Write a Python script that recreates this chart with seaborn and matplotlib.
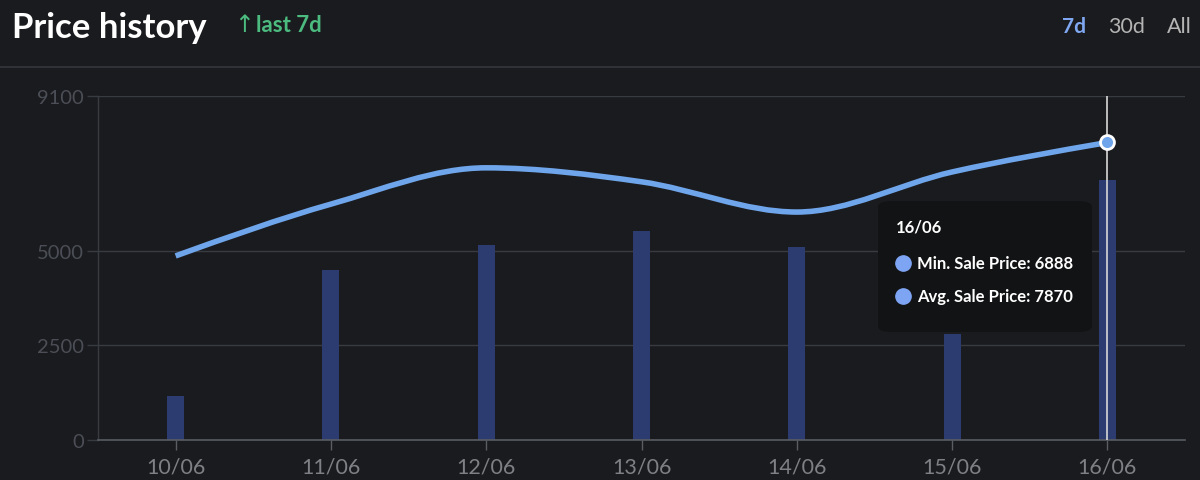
import numpy as np
import pandas as pd
import matplotlib
matplotlib.use("Agg")
import matplotlib.pyplot as plt
import seaborn as sns
from matplotlib.path import Path
from matplotlib.patches import PathPatch, FancyBboxPatch
from matplotlib.lines import Line2D

# data
days = ["10/06", "11/06", "12/06", "13/06", "14/06", "15/06", "16/06"]
min_price = [1160, 4500, 5150, 5530, 5100, 2800, 6888]
avg_price = [4870, 6240, 7200, 6830, 6030, 7090, 7870]
y_ticks = [0, 2500, 5000, 9100]

BG = "#1a1b1e"
GRID = "#383b42"
BAR = "#2c3c70"
LINE = "#6fa5ea"

sns.set_style("dark")
plt.rcParams["font.family"] = ["Lato", "DejaVu Sans"]

W, H = 1200, 481
fig = plt.figure(figsize=(12, 4.81), dpi=100, facecolor=BG)


def fx(px):
    return px / W


def fy(py):
    return 1 - py / H


ax = fig.add_axes([fx(98), fy(441), fx(1185) - fx(98), fy(97) - fy(441)])
ax.set_facecolor(BG)

df = pd.DataFrame({"day": days, "min": min_price, "avg": avg_price})
sns.barplot(data=df, x="day", y="min", color=BAR, saturation=1, width=0.11,
            edgecolor="none", linewidth=0, ax=ax)

# smooth line, monotone-x like the web chart
x = np.arange(len(days), dtype=float)
y = np.array(avg_price, dtype=float)
h = np.diff(x)
s = np.diff(y) / h
t = np.zeros(len(y))
for i in range(1, len(y) - 1):
    p = (s[i - 1] * h[i] + s[i] * h[i - 1]) / (h[i - 1] + h[i])
    t[i] = (np.sign(s[i - 1]) + np.sign(s[i])) * min(abs(s[i - 1]), abs(s[i]), 0.5 * abs(p))
t[0] = (3 * s[0] - t[1]) / 2
t[-1] = (3 * s[-1] - t[-2]) / 2
verts = [(x[0], y[0])]
codes = [Path.MOVETO]
for i in range(len(x) - 1):
    dx = (x[i + 1] - x[i]) / 3
    verts += [(x[i] + dx, y[i] + dx * t[i]), (x[i + 1] - dx, y[i + 1] - dx * t[i + 1]), (x[i + 1], y[i + 1])]
    codes += [Path.CURVE4] * 3
ax.add_patch(PathPatch(Path(verts, codes), fill=False, edgecolor=LINE, lw=4, capstyle="butt", zorder=4))

# hover cursor on last day
ax.axvline(len(days) - 1, color="#d8d8d8", lw=1.2, zorder=5)
sns.scatterplot(x=[len(days) - 1], y=[avg_price[-1]], s=100, color=LINE, edgecolor="white",
                linewidth=2, ax=ax, zorder=6)

ax.set_xlim(-0.5, len(days) - 0.5)
ax.set_ylim(0, 9100)
ax.set_yticks(y_ticks)
ax.set_yticklabels([str(v) for v in y_ticks])
ax.set_xlabel("")
ax.set_ylabel("")
ax.grid(False)
for v in y_ticks[1:]:
    ax.axhline(v, color=GRID, lw=1, zorder=0)

for side in ["top", "right"]:
    ax.spines[side].set_visible(False)
ax.spines["left"].set_color(GRID)
ax.spines["left"].set_linewidth(1)
ax.spines["bottom"].set_color("#5a5d64")
ax.spines["bottom"].set_linewidth(1.2)
ax.tick_params(axis="y", colors=GRID, labelcolor="#4b4e56", labelsize=14.5, length=8, width=1, pad=2, left=True)
ax.tick_params(axis="x", colors="#5a5d64", labelcolor="#7e8085", labelsize=15.5, length=7, width=1, pad=5, bottom=True)

# tooltip
tip = FancyBboxPatch((fx(878), fy(333)), fx(1092) - fx(878), fy(202) - fy(333),
                     boxstyle="round,pad=0,rounding_size=0.012", transform=fig.transFigure,
                     facecolor="#121314", edgecolor="none", zorder=10)
fig.patches.append(tip)
fig.text(fx(896), fy(233), days[-1], color="white", fontsize=12, fontweight="bold", va="baseline", zorder=11)
fig.text(fx(917), fy(269), f"Min. Sale Price: {min_price[-1]}", color="white", fontsize=12,
         fontweight="bold", va="baseline", zorder=11)
fig.text(fx(917), fy(302), f"Avg. Sale Price: {avg_price[-1]}", color="white", fontsize=12,
         fontweight="bold", va="baseline", zorder=11)
for py in [264, 297]:
    fig.add_artist(Line2D([fx(903)], [fy(py)], marker="o", markersize=11, color="#7ea4f4",
                          transform=fig.transFigure, zorder=11))

# header
fig.text(fx(12), fy(38), "Price history", color="white", fontsize=25, fontweight="bold", va="baseline")
fig.text(fx(234), fy(32), "↑", color="#4cbb7f", fontsize=17, va="baseline",
         family=["DejaVu Sans"])
fig.text(fx(256), fy(32), "last 7d", color="#4cbb7f", fontsize=16, fontweight="bold", va="baseline")
fig.text(fx(1062), fy(33), "7d", color="#80a8f2", fontsize=15, fontweight="bold", va="baseline")
fig.text(fx(1108), fy(33), "30d", color="#b4b4b4", fontsize=15.5, va="baseline")
fig.text(fx(1167), fy(33), "All", color="#b4b4b4", fontsize=15.5, va="baseline")
fig.add_artist(Line2D([0, 1], [fy(68), fy(68)], color="#34363b", lw=1.2, transform=fig.transFigure))

fig.savefig("out.png", dpi=100, facecolor=BG)
